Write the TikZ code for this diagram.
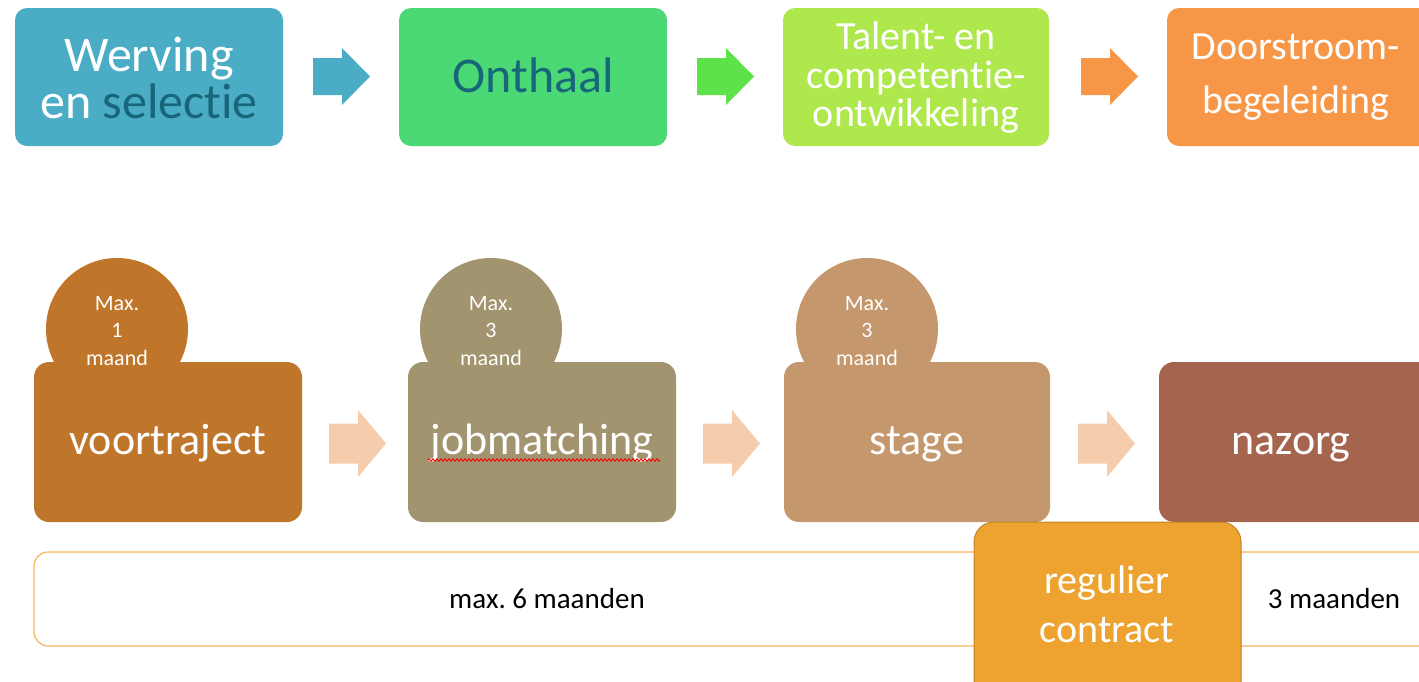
\documentclass[tikz,border=0pt]{standalone}
\usepackage{fontspec}
\setmainfont{Carlito}[Ligatures=NoCommon]
\usetikzlibrary{decorations.pathmorphing}
\definecolor{cBlue}{HTML}{4BACC6}
\definecolor{cTeal}{HTML}{17667A}
\definecolor{cGreen}{HTML}{4AD974}
\definecolor{cGreenArr}{HTML}{5DE24A}
\definecolor{cLime}{HTML}{AEE84C}
\definecolor{cOrange}{HTML}{F79646}
\definecolor{cVoor}{HTML}{C0762A}
\definecolor{cJob}{HTML}{A39470}
\definecolor{cStage}{HTML}{C4976C}
\definecolor{cNaz}{HTML}{A5644D}
\definecolor{cPeach}{HTML}{F6CDAC}
\definecolor{cReg}{HTML}{EEA22F}
\definecolor{cRegB}{HTML}{C08425}
\definecolor{cBar}{HTML}{F5B55A}
\tikzset{
  topbox/.style={rounded corners=12pt},
  botbox/.style={rounded corners=15pt},
  txt/.style={text=white, align=center, inner sep=0pt},
  boxtxt/.style={txt, anchor=base, font=\fontsize{44}{44}\selectfont},
}
\newcommand{\arrowshape}[5]{% x0, xb, xt, yc, fill
  \fill[#5] (#1,#4+18.5) -- (#2,#4+18.5) -- (#2,#4+28.5) -- (#3,#4) -- (#2,#4-28.5) -- (#2,#4-18.5) -- (#1,#4-18.5) -- cycle;}
\newcommand{\arrowshapeB}[5]{%
  \fill[#5] (#1,#4+20) -- (#2,#4+20) -- (#2,#4+33.5) -- (#3,#4) -- (#2,#4-33.5) -- (#2,#4-20) -- (#1,#4-20) -- cycle;}
\frenchspacing
\begin{document}
\begin{tikzpicture}[x=1pt,y=1pt]
\useasboundingbox (0,0) rectangle (1419,-681);
\clip (0,0) rectangle (1419,-681);
% ---------- top row ----------
\fill[cBlue,topbox] (15,-8) rectangle (283,-146);
\node[txt, font=\fontsize{50}{47}\selectfont] (werv) at (149,-78) {Werving\\en \textcolor{cTeal}{selectie}};
\arrowshape{313}{342}{370}{-76.5}{cBlue}
\fill[cGreen,topbox] (399,-8) rectangle (667,-146);
\node[txt, text=cTeal, font=\fontsize{50}{50}\selectfont] (ont) at (533,-75) {Onthaal};
\arrowshape{697}{726}{754}{-76.5}{cGreenArr}
\fill[cLime,topbox] (783,-8) rectangle (1049,-146);
\node[txt, font=\fontsize{40}{38.5}\selectfont] (tal) at (916,-78) {Talent- en\\competentie-\\ontwikkeling};
\arrowshape{1081}{1110}{1138}{-76.5}{cOrange}
\fill[cOrange,topbox] (1167,-8) rectangle (1440,-146);
\node[txt, font=\fontsize{40}{54}\selectfont] (door) at (1296,-77) {Doorstroom-\\begeleiding};
% ---------- bottom row ----------
% bar
\draw[cBar, line width=1.2pt, fill=white, rounded corners=14pt] (34,-552) rectangle (1440,-646);
\node[inner sep=0pt, font=\fontsize{29}{29}\selectfont] (max6) at (547,-599) {max. 6 maanden};
\node[inner sep=0pt, font=\fontsize{29}{29}\selectfont] (m3) at (1334,-599) {3 maanden};
% circles
\fill[cVoor] (117,-329) circle (71);
\fill[cJob] (491,-329) circle (71);
\fill[cStage] (867,-329) circle (71);
% boxes
\fill[cVoor,botbox] (34,-362) rectangle (302,-522);
\fill[cJob,botbox] (408,-362) rectangle (676,-522);
\fill[cStage,botbox] (784,-362) rectangle (1050,-522);
\fill[cNaz,botbox] (1159,-362) rectangle (1440,-522);
% circle texts
\foreach \cx/\num/\nm in {117/1/c1, 491/3/c2, 867/3/c3}{
  \node[txt, font=\fontsize{22}{27.5}\selectfont] (\nm) at (\cx,-331) {Max.\\\num\\maand};
}
% box texts
\node[boxtxt] (voor) at (168,-454) {voortraject};
\node[boxtxt] (job) at (542,-454) {jobmatching};
\draw[red, line width=0.9pt, decorate, decoration={zigzag, segment length=4pt, amplitude=1.2pt}] (428,-460) -- (660,-460);
\node[boxtxt] (stage) at (917,-454) {stage};
\node[boxtxt] (naz) at (1291,-454) {nazorg};
% arrows
\arrowshapeB{329}{358}{386}{-443.5}{cPeach}
\arrowshapeB{703}{732}{760}{-443.5}{cPeach}
\arrowshapeB{1078}{1107}{1135}{-443.5}{cPeach}
% regulier contract
\draw[cRegB, line width=1pt, fill=cReg, rounded corners=20pt] (974,-522) rectangle (1241,-720);
\node[txt, font=\fontsize{40}{49}\selectfont] (reg) at (1107,-604) {regulier\\contract};
\end{tikzpicture}
\end{document}
